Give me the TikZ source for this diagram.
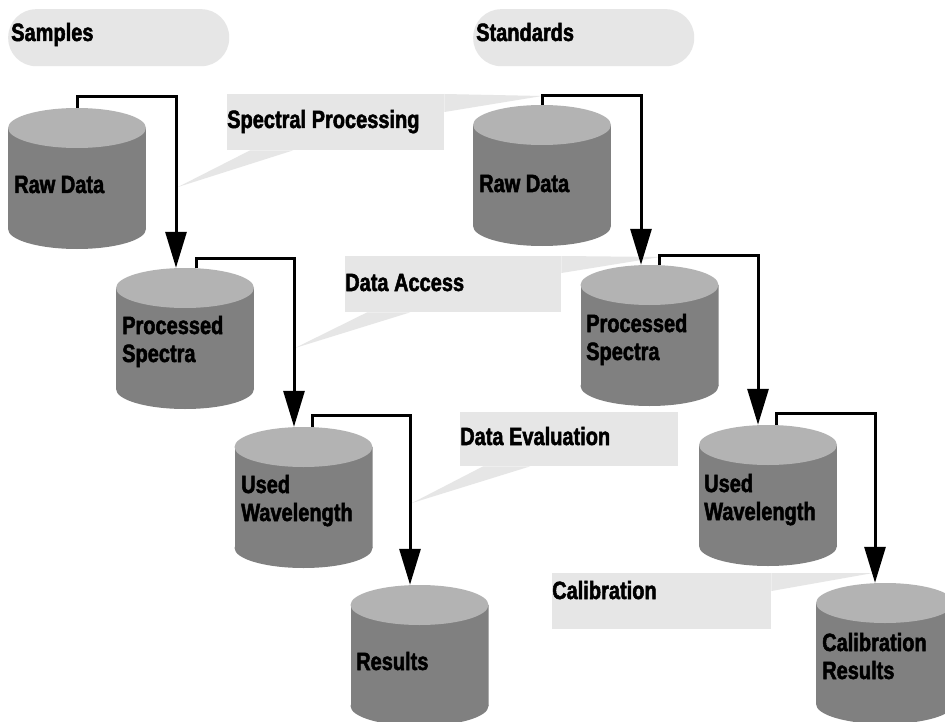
\documentclass[tikz,border=0pt]{standalone}
\usepackage{fontspec}
\newfontfamily\labfont{Liberation Sans}[FakeStretch=0.8,FakeBold=2]
\usetikzlibrary{arrows.meta,calc}
\definecolor{pale}{HTML}{E6E6E6}
\definecolor{cyltopc}{HTML}{B3B3B3}
\definecolor{cylbodyc}{HTML}{808080}
\begin{document}
\begin{tikzpicture}[x=1pt,y=-1pt,
  lbl/.style={anchor=base west,inner sep=0pt,font=\labfont\bfseries\fontsize{25}{28}\selectfont,align=left},
  cylbox/.style={minimum width=138pt,minimum height=141pt,inner sep=0pt,
    path picture={
      \fill[cylbodyc] ([yshift=-20pt]path picture bounding box.north west) rectangle ([yshift=20pt]path picture bounding box.south east);
      \fill[cylbodyc] ([yshift=20pt]path picture bounding box.south) ellipse [x radius=69pt,y radius=20pt];
      \fill[cyltopc] ([yshift=-20pt]path picture bounding box.north) ellipse [x radius=69pt,y radius=20pt];
    }},
  callbox/.style={fill=pale,inner sep=0pt,anchor=north west},
  pill/.style={fill=pale,rounded corners=28pt,inner sep=0pt,anchor=north west,minimum width=221pt,minimum height=57pt},
  conn/.style={line width=3pt,-{Triangle[length=36pt,width=21pt]}}
]
\clip (0,0) rectangle (945,722);
\fill[white] (0,0) rectangle (945,722);

% header pills
\node[pill] (samp) at (8,9) {};
\node[pill] (stan) at (473,9) {};
\node[lbl] (sampt) at (11,41) {Samples};
\node[lbl] (stant) at (476,41) {Standards};

% callout boxes
\node[callbox,minimum width=217pt,minimum height=56pt] (sp) at (227,94) {};
\node[callbox,minimum width=216pt,minimum height=56pt] (da) at (345,256) {};
\node[callbox,minimum width=218pt,minimum height=54pt] (de) at (460,412) {};
\node[callbox,minimum width=219pt,minimum height=56pt] (ca) at (552,573) {};

% callout pointer tips
\coordinate (sptipA) at (542,96);
\coordinate (sptipB) at (178,187);
\coordinate (datipA) at (660,257);
\coordinate (datipB) at (295,348);
\coordinate (detipB) at (412,503);
\coordinate (catipA) at (873,573);

\fill[pale] (sp.north east) -- (sptipA) -- ([yshift=-18pt]sp.north east) -- cycle;
\fill[pale] ([xshift=23pt]sp.south west) -- (sptipB) -- ([xshift=66pt]sp.south west) -- cycle;
\fill[pale] (da.north east) -- (datipA) -- ([yshift=-17pt]da.north east) -- cycle;
\fill[pale] ([xshift=22pt]da.south west) -- (datipB) -- ([xshift=65pt]da.south west) -- cycle;
\fill[pale] ([xshift=23pt]de.south west) -- (detipB) -- ([xshift=70pt]de.south west) -- cycle;
\fill[pale] (ca.north east) -- (catipA) -- ([yshift=-18pt]ca.north east) -- cycle;

\node[lbl] (spt) at (227,128) {Spectral Processing};
\node[lbl] (dat) at (345,291) {Data Access};
\node[lbl] (det) at (460,445) {Data Evaluation};
\node[lbl] (cat) at (552,599) {Calibration};

% cylinders
\node[cylbox] (c1) at (77,178.5) {};
\node[cylbox] (c2) at (185,338.5) {};
\node[cylbox] (c3) at (303.5,497.5) {};
\node[cylbox] (c4) at (419.5,655.5) {};
\node[cylbox] (r1) at (542,175.5) {};
\node[cylbox] (r2) at (649.5,335.5) {};
\node[cylbox] (r3) at (768,495.5) {};
\node[cylbox] (r4) at (885,653.5) {};

% (base anchor = baseline of the last line)
\node[lbl] (c1t) at (14,193) {Raw Data};
\node[lbl] (c2t) at (122,362) {Processed\\Spectra};
\node[lbl] (c3t) at (241,521) {Used\\Wavelength};
\node[lbl] (c4t) at (356,670) {Results};
\node[lbl] (r1t) at (479,192) {Raw Data};
\node[lbl] (r2t) at (586,360) {Processed\\Spectra};
\node[lbl] (r3t) at (704,520) {Used\\Wavelength};
\node[lbl] (r4t) at (822,679) {Calibration\\Results};

% connectors
\coordinate (k1) at (176,97);
\coordinate (k2) at (294,258);
\coordinate (k3) at (410,415);
\coordinate (k4) at (641,96);
\coordinate (k5) at (758,255);
\coordinate (k6) at (875,413);

\draw[conn] (c1.north) |- (k1) -- (k1 |- c2.north);
\draw[conn] ([xshift=11pt]c2.north) |- (k2) -- (k2 |- c3.north);
\draw[conn] ([xshift=8.5pt]c3.north) |- (k3) -- (k3 |- c4.north);
\draw[conn] (r1.north) |- (k4) -- (k4 |- r2.north);
\draw[conn] ([xshift=9.5pt]r2.north) |- (k5) -- (k5 |- r3.north);
\draw[conn] ([xshift=8pt]r3.north) |- (k6) -- (k6 |- r4.north);
\end{tikzpicture}
\end{document}
